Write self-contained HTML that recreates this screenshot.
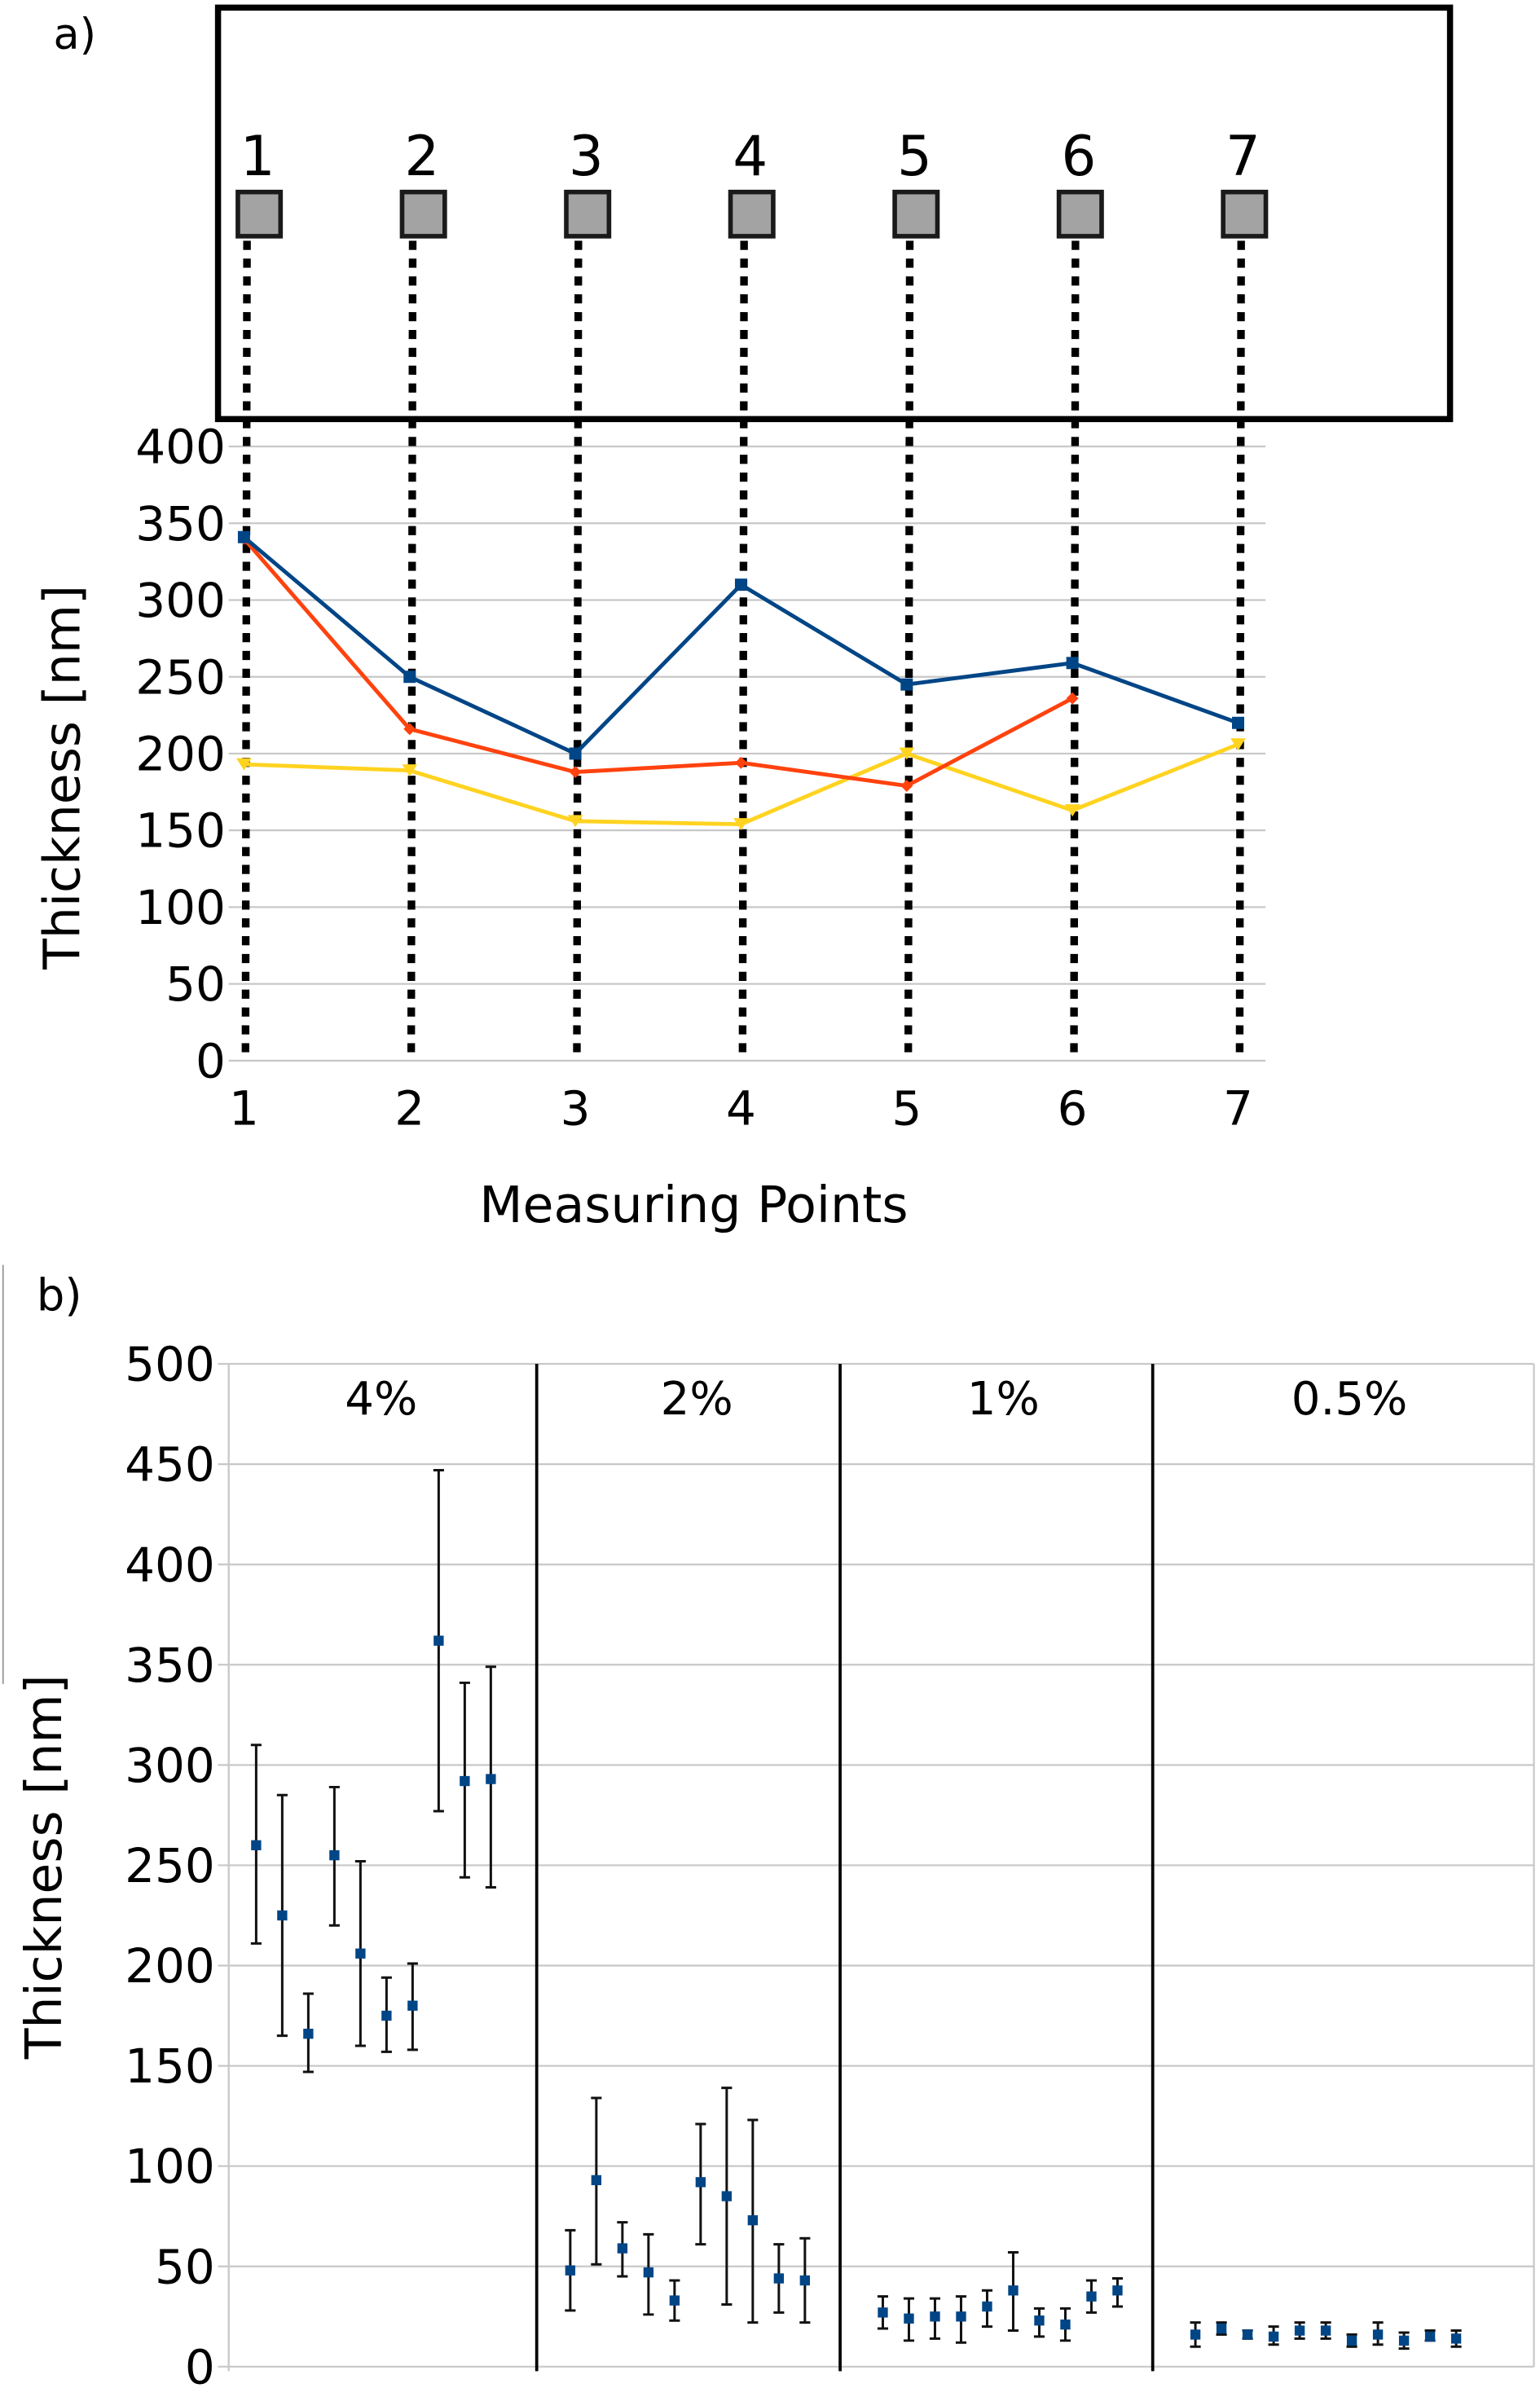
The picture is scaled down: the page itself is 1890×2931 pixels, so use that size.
<!DOCTYPE html>
<html><head><meta charset="utf-8"><style>
html,body{margin:0;padding:0;background:#fff;}
svg{display:block;}
text{font-family:"DejaVu Sans","Liberation Sans",sans-serif;fill:#000;}
</style></head><body>
<svg id="fig" width="1890" height="2931" viewBox="0 0 1010 1567" preserveAspectRatio="none" xmlns="http://www.w3.org/2000/svg">
<g id="a"></g>
<g id="b"></g>
</svg>
<script>
// ---- chart a data ----
const aPoints = [1,2,3,4,5,6,7];
const aYTicks = [0,50,100,150,200,250,300,350,400];
const aBlue = [341,250,200,310,245,259,220];
const aRed = [340,216,188,194,179,236];
const aYellow = [193,189,156,154,200,163,206];
// ---- chart b data ----
const bGroups = ["4%","2%","1%","0.5%"];
const bYTicks = [0,50,100,150,200,250,300,350,400,450,500];
const bMean4 = [260,225,166,255,206,175,180,362,292,293];
const bLow4  = [211,165,147,220,160,157,158,277,244,239];
const bHigh4 = [310,285,186,289,252,194,201,447,341,349];
const bMean2 = [48,93,59,47,33,92,85,73,44,43];
const bLow2  = [28,51,45,26,23,61,31,22,27,22];
const bHigh2 = [68,134,72,66,43,121,139,123,61,64];
const bMean1 = [27,24,25,25,30,38,23,21,35,38];
const bLow1  = [19,13,14,12,20,18,15,13,27,30];
const bHigh1 = [35,34,34,35,38,57,29,29,43,44];
const bMean05 = [16,19,16,15,18,18,13,16,13,15,14];
const bLow05  = [10,16,14,11,14,14,10,11,9,13,10];
const bHigh05 = [22,22,18,20,22,22,16,22,17,18,18];

const NS="http://www.w3.org/2000/svg";
function mk(parent,tag,attrs,txt){const e=document.createElementNS(NS,tag);for(const k in attrs)e.setAttribute(k,attrs[k]);if(txt!==undefined)e.textContent=txt;parent.appendChild(e);return e;}

// ===== Chart a =====
const A=document.getElementById('a');
const axA=v=>160+(v-1)*(812-160)/6;
const ayA=v=>696-v*(696-293)/400;
const sqX=v=>170+(v-1)*107.7;
let t=mk(A,'text',{x:35,y:32,'font-size':28});t.textContent='a)';


aYTicks.forEach(v=>{
  const l=mk(A,'line',{x1:150,x2:830,y1:ayA(v),y2:ayA(v),stroke:'#c8c8c8','stroke-width':1.2});
  
  
  const tx=mk(A,'text',{x:148,y:ayA(v)+11,'font-size':31,'text-anchor':'end'},String(v));
  
  
});
aPoints.forEach(p=>{
  const tx=mk(A,'text',{x:axA(p),y:738,'font-size':31,'text-anchor':'middle'},String(p));
  
  
});
t=mk(A,'text',{x:455,y:802,'font-size':33,'text-anchor':'middle'},'Measuring Points');


t=mk(A,'text',{x:0,y:0,'font-size':33,'text-anchor':'middle',transform:'translate(52,510) rotate(-90)'},'Thickness [nm]');


let r=mk(A,'rect',{x:143,y:5,width:808,height:270,fill:'none',stroke:'#000','stroke-width':4});


aPoints.forEach(p=>{
  const x=sqX(p);
  const d=mk(A,'line',{x1:axA(p)+2,x2:axA(p)+1,y1:158,y2:696,stroke:'#000','stroke-width':5,'stroke-dasharray':'6 5.7'});
  
  
  const s=mk(A,'rect',{x:x-14,y:126,width:28,height:29,fill:'#a3a3a3',stroke:'#1a1a1a','stroke-width':3});
  
  
  const l=mk(A,'text',{x:x-1,y:115,'font-size':36,'text-anchor':'middle'},String(p));
  
  
});
function series(vals,color,name,marker){
  const pts=vals.map((v,i)=>axA(aPoints[i])+','+ayA(v)).join(' ');
  const pl=mk(A,'polyline',{points:pts,fill:'none',stroke:color,'stroke-width':2.6});
  
  
  vals.forEach((v,i)=>{
    const x=axA(aPoints[i]),y=ayA(v);
    let m;
    if(marker==='sq') m=mk(A,'rect',{x:x-4,y:y-4,width:8,height:8,fill:color});
    else if(marker==='dia') m=mk(A,'polygon',{points:`${x},${y-4} ${x+4},${y} ${x},${y+4} ${x-4},${y}`,fill:color});
    else m=mk(A,'polygon',{points:`${x-5},${y-4} ${x+5},${y-4} ${x},${y+4}`,fill:color});
    
    
  });
}
series(aYellow,'#ffd320','series-yellow','tri');
series(aRed,'#ff420e','series-red','dia');
series(aBlue,'#004586','series-blue','sq');

// ===== Chart b =====
const B=document.getElementById('b');
const byB=v=>1553-v*(1553-895)/500;
const groupStart=[168,374,579,784];
const step=17.1;
const groupMeans=[bMean4,bMean2,bMean1,bMean05];
const groupLows=[bLow4,bLow2,bLow1,bLow05];
const groupHighs=[bHigh4,bHigh2,bHigh1,bHigh05];
const bx=(g,i)=>groupStart[g]+i*step;
t=mk(B,'text',{x:24,y:860,'font-size':29},'b)');


let ln=mk(B,'line',{x1:2,x2:2,y1:830,y2:1105,stroke:'#999','stroke-width':1});


bYTicks.forEach(v=>{
  const l=mk(B,'line',{x1:143,x2:1006,y1:byB(v),y2:byB(v),stroke:'#c8c8c8','stroke-width':1.2});
  
  
  const tx=mk(B,'text',{x:141,y:byB(v)+11,'font-size':31,'text-anchor':'end'},String(v));
  
  
});
ln=mk(B,'line',{x1:150,x2:150,y1:895,y2:1556,stroke:'#c8c8c8','stroke-width':1.2});


ln=mk(B,'line',{x1:1006,x2:1006,y1:895,y2:1553,stroke:'#c8c8c8','stroke-width':1.2});


[352,551,756].forEach(x=>{
  const d=mk(B,'line',{x1:x,x2:x,y1:895,y2:1556,stroke:'#000','stroke-width':2});
  
  
});
const labelX=[250,457,658,885];
bGroups.forEach((g,i)=>{
  const tx=mk(B,'text',{x:labelX[i],y:928,'font-size':30,'text-anchor':'middle'},g);
  
  
});
t=mk(B,'text',{x:0,y:0,'font-size':33,'text-anchor':'middle',transform:'translate(40,1225) rotate(-90)'},'Thickness [nm]');


groupMeans.forEach((means,g)=>{
  means.forEach((v,i)=>{
    const x=bx(g,i),lo=byB(groupLows[g][i]),hi=byB(groupHighs[g][i]);
    const e=mk(B,'path',{d:`M${x},${lo}V${hi}M${x-3.5},${lo}H${x+3.5}M${x-3.5},${hi}H${x+3.5}`,stroke:'#111','stroke-width':1.6,fill:'none'});
    
    
    const m=mk(B,'rect',{x:x-3.3,y:byB(v)-3.3,width:6.6,height:6.6,fill:'#004586'});
    
    
  });
});
</script>
</body></html>
